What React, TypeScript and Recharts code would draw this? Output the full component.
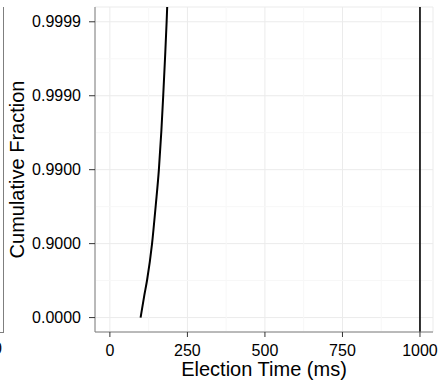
import { CartesianGrid, LineChart, Line, ReferenceLine, XAxis, YAxis } from "recharts";

// election time (ms) against cumulative fraction
const ELECTION_TIMES = [99, 111, 120, 136, 148, 158, 166, 172, 178, 183, 185];
const CUMULATIVE = [0, 0.5, 0.69, 0.9, 0.97, 0.99, 0.997, 0.999, 0.9997, 0.9999, 0.99994];
const TIMEOUT_MS = 1000;

const X_TICKS = [0, 250, 500, 750, 1000];
const X_MINOR = [125, 375, 625, 875];
const Y_LEVELS = [0, 1, 2, 3, 4]; // -log10(1 - fraction)
const Y_MINOR = [0.5, 1.5, 2.5, 3.5];

const toLevel = (p: number) => -Math.log10(1 - p);
const fromLevel = (t: number) => (1 - Math.pow(10, -t)).toFixed(4);

const data = ELECTION_TIMES.map((time, i) => ({ time, level: toLevel(CUMULATIVE[i]) }));

const FONT = "'Liberation Sans', Arial, Helvetica, sans-serif";
const BORDER = "#7f7f7f";
const TICK = "#333333";

export default function App() {
  const tickStyle = { fill: "#000", fontSize: 16, fontFamily: FONT };
  return (
    <div style={{ position: "absolute", left: 0, top: 0, width: 438, height: 380, background: "#fff" }}>
      {/* edge of the neighbouring facet, cut off by the crop */}
      <div
        style={{
          position: "absolute",
          left: 0,
          top: 7,
          width: 3,
          height: 325,
          borderRight: `1px solid ${BORDER}`,
          borderBottom: `1px solid ${BORDER}`,
        }}
      />
      <div
        style={{
          position: "absolute",
          left: -7,
          top: 341,
          fontFamily: FONT,
          fontSize: 16,
          lineHeight: "16px",
        }}
      >
        0
      </div>
      <LineChart
        width={438}
        height={380}
        data={data}
        margin={{ top: 7, right: 5, bottom: 0, left: 0 }}
        style={{ position: "absolute", left: 0, top: 0 }}
      >
        {X_MINOR.map((v) => (
          <ReferenceLine key={"xm" + v} x={v} stroke="#f7f7f7" strokeWidth={1} />
        ))}
        {Y_MINOR.map((v) => (
          <ReferenceLine key={"ym" + v} y={v} stroke="#f7f7f7" strokeWidth={1} />
        ))}
        <CartesianGrid stroke="#ebebeb" strokeWidth={1} />
        <XAxis
          type="number"
          dataKey="time"
          domain={[-48, 1042]}
          ticks={X_TICKS}
          allowDataOverflow
          height={48}
          tickSize={5}
          tickMargin={8}
          axisLine={{ stroke: BORDER }}
          tickLine={{ stroke: TICK }}
          tick={tickStyle}
          label={{
            content: (props: any) => {
              const vb = props.viewBox;
              return (
                <text
                  x={vb.x + vb.width / 2}
                  y={vb.y + 44}
                  textAnchor="middle"
                  fontSize={20}
                  fontFamily={FONT}
                  fill="#000"
                >
                  Election Time (ms)
                </text>
              );
            },
          }}
        />
        <XAxis xAxisId="top" orientation="top" type="number" dataKey="time" domain={[-48, 1042]} height={0} tick={false} tickLine={false} axisLine={{ stroke: BORDER }} />
        <YAxis
          type="number"
          dataKey="level"
          domain={[-0.195, 4.2]}
          ticks={Y_LEVELS}
          allowDataOverflow
          width={95}
          tickSize={6}
          tickMargin={8}
          tickFormatter={fromLevel}
          axisLine={{ stroke: BORDER }}
          tickLine={{ stroke: TICK }}
          tick={tickStyle}
          label={{
            content: (props: any) => {
              const vb = props.viewBox;
              const cy = vb.y + vb.height / 2;
              return (
                <text
                  x={17}
                  y={cy}
                  transform={`rotate(-90, 17, ${cy})`}
                  textAnchor="middle"
                  dominantBaseline="central"
                  fontSize={20}
                  fontFamily={FONT}
                  fill="#000"
                >
                  Cumulative Fraction
                </text>
              );
            },
          }}
        />
        <YAxis yAxisId="right" orientation="right" type="number" domain={[-0.195, 4.2]} width={0} tick={false} tickLine={false} axisLine={{ stroke: BORDER }} />
        <ReferenceLine x={TIMEOUT_MS} stroke="#000" strokeWidth={1.6} />
        <Line
          type="monotone"
          dataKey="level"
          stroke="#000"
          strokeWidth={2}
          dot={false}
          isAnimationActive={false}
        />
      </LineChart>
    </div>
  );
}
